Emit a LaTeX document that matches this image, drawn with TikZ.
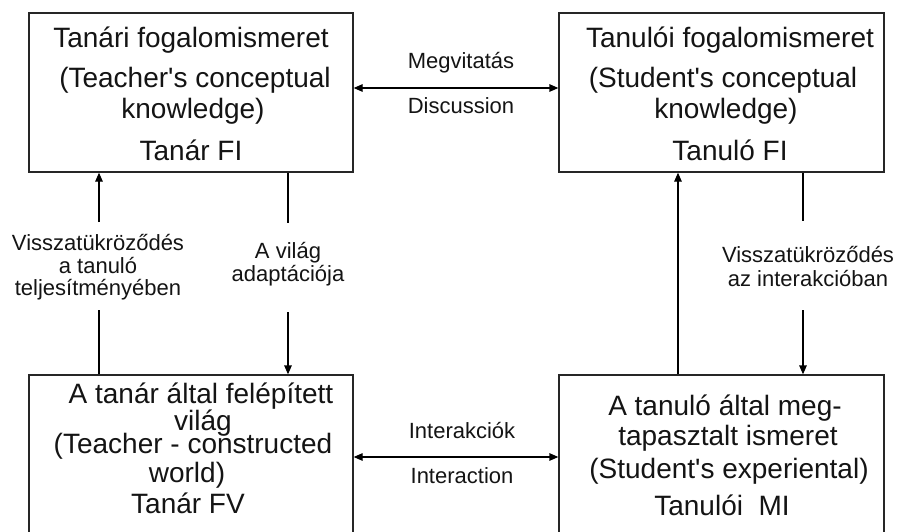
\documentclass[tikz,border=0pt]{standalone}
\usepackage{fontspec}
\setmainfont{Liberation Sans}[Ligatures=TeXOff]
\usetikzlibrary{arrows.meta}
\definecolor{ink}{HTML}{141414}
\definecolor{frame}{HTML}{262626}
\begin{document}
\begin{tikzpicture}[x=1pt,y=-1pt,
  box/.style={draw=frame, line width=1.3pt, inner sep=0pt},
  boxtxt/.style={anchor=base, inner sep=0pt, text=ink, font=\fontsize{28}{32}\selectfont},
  lbl/.style={anchor=base, inner sep=0pt, text=ink, font=\fontsize{22}{25}\selectfont},
  seg/.style={draw=black, line width=1.3pt},
  arr/.style={seg, -{Triangle[length=9pt,width=7.5pt]}},
  dbl/.style={seg, {Triangle[length=9pt,width=7.5pt]}-{Triangle[length=9pt,width=7.5pt]}}]

\useasboundingbox (0,0) rectangle (900,531);
\fill[white] (0,0) rectangle (900,531);

% the four boxes (the lower pair runs off the bottom of the page)
\node[box, minimum width=324pt, minimum height=159pt] (tl) at (191,92.5) {};
\node[box, minimum width=325pt, minimum height=159pt] (tr) at (721.5,92.5) {};
\node[box, minimum width=324pt, minimum height=175pt] (bl) at (191,462.5) {};
\node[box, minimum width=325pt, minimum height=175pt] (br) at (721.5,462.5) {};

% teacher's conceptual knowledge
\node[boxtxt] (tl1) at (191,47)  {Tanári fogalomismeret};
\node[boxtxt] (tl2) at (195,87)  {(Teacher's conceptual};
\node[boxtxt] (tl3) at (193,118) {knowledge)};
\node[boxtxt] (tl4) at (191,160) {Tanár FI};

% student's conceptual knowledge
\node[boxtxt] (tr1) at (730,47)  {Tanulói fogalomismeret};
\node[boxtxt] (tr2) at (723,87)  {(Student's conceptual};
\node[boxtxt] (tr3) at (726,118) {knowledge)};
\node[boxtxt] (tr4) at (730,160) {Tanuló FI};

% teacher-constructed world
\node[boxtxt] (bl1) at (201,403) {A tanár által felépített};
\node[boxtxt] (bl2) at (203,430) {világ};
\node[boxtxt] (bl3) at (193,453) {(Teacher - constructed};
\node[boxtxt] (bl4) at (187,482) {world)};
\node[boxtxt] (bl5) at (188,513) {Tanár FV};

% student's experiential knowledge
\node[boxtxt] (br1) at (725,415) {A tanuló által meg-};
\node[boxtxt] (br2) at (728,445) {tapasztalt ismeret};
\node[boxtxt] (br3) at (729,478) {(Student's experiental)};
\node[boxtxt] (br4) at (722,515) {Tanulói\ \ MI};

% horizontal links
\coordinate (h1) at (456,88);
\coordinate (h2) at (456,457);
\draw[dbl] (tl.east |- h1) -- (tr.west |- h1);
\draw[dbl] (bl.east |- h2) -- (br.west |- h2);
\node[lbl] (m1) at (461,68)  {Megvitatás};
\node[lbl] (m2) at (461,113) {Discussion};
\node[lbl] (i1) at (462,438) {Interakciók};
\node[lbl] (i2) at (462,483) {Interaction};

% left: reflection in the student's performance (upwards)
\coordinate (p1) at (99,222);
\coordinate (p2) at (99,310);
\draw[arr] (p1) -- (tl.south -| p1);
\draw[seg] (bl.north -| p2) -- (p2);
\node[lbl] (la1) at (98,250) {Visszatükröződés};
\node[lbl] (la2) at (98,273) {a tanuló};
\node[lbl] (la3) at (98,295) {teljesítményében};

% left: adaptation of the world (downwards)
\coordinate (q1) at (288,223);
\coordinate (q2) at (288,312);
\draw[seg] (tl.south -| q1) -- (q1);
\draw[arr] (q2) -- (bl.north -| q2);
\node[lbl] (lb1) at (288,258) {A világ};
\node[lbl] (lb2) at (288,281) {adaptációja};

% right: experience feeds the student's concepts (upwards)
\coordinate (r) at (678,300);
\draw[arr] (br.north -| r) -- (tr.south -| r);

% right: reflection in the interaction (downwards)
\coordinate (s1) at (803,221);
\coordinate (s2) at (803,310);
\draw[seg] (tr.south -| s1) -- (s1);
\draw[arr] (s2) -- (br.north -| s2);
\node[lbl] (ra1) at (808,262) {Visszatükröződés};
\node[lbl] (ra2) at (808,286) {az interakcióban};

\end{tikzpicture}
\end{document}
